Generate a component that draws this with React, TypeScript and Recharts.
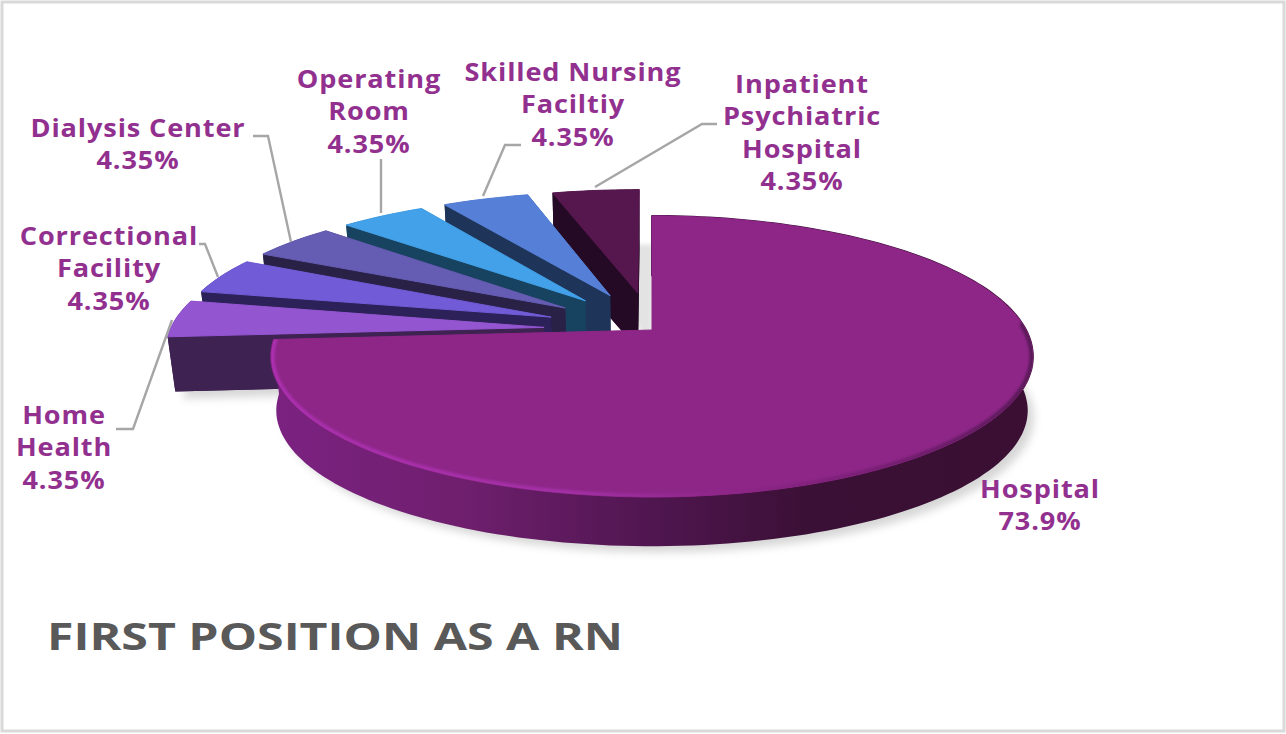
import React from 'react';
import { PieChart, Pie } from 'recharts';

const sliceNames = [
  'Inpatient Psychiatric Hospital',
  'Skilled Nursing Faciltiy',
  'Operating Room',
  'Dialysis Center',
  'Correctional Facility',
  'Home Health',
  'Hospital',
];
const sliceValues = [4.35, 4.35, 4.35, 4.35, 4.35, 4.35, 73.9];
const topColors = ['#56174f', '#5680d8', '#42a1e8', '#655cb3', '#725bd6', '#9355d0', '#8e2688'];
const wallColors = ['#240a24', '#1f3459', '#184360', '#292146', '#2c2259', '#3d2252', '#3a0f33'];

const chartTitle = 'FIRST POSITION AS A RN';
const data = sliceNames.map((name, i) => ({ name, value: sliceValues[i], top: topColors[i], wall: wallColors[i] }));

// label layout (not data): text centre, line centres, and leader polyline
const labelLayout: Record<string, { x: number; lines: string[]; ys: number[]; leader?: number[][] }> = {
  'Inpatient Psychiatric Hospital': {
    x: 802, lines: ['Inpatient', 'Psychiatric', 'Hospital'], ys: [83, 115, 148, 180],
    leader: [[595, 187], [702, 124], [717, 124]],
  },
  'Skilled Nursing Faciltiy': {
    x: 573, lines: ['Skilled Nursing', 'Faciltiy'], ys: [71, 103, 136],
    leader: [[483, 196], [505, 145], [521, 145]],
  },
  'Operating Room': {
    x: 369, lines: ['Operating', 'Room'], ys: [78, 110, 143],
    leader: [[381, 213], [381, 159]],
  },
  'Dialysis Center': {
    x: 138, lines: ['Dialysis Center'], ys: [127, 159],
    leader: [[291, 242], [268, 136], [253, 136]],
  },
  'Correctional Facility': {
    x: 109, lines: ['Correctional', 'Facility'], ys: [235, 267, 300],
    leader: [[218, 277], [205, 244], [199, 244]],
  },
  'Home Health': {
    x: 64, lines: ['Home', 'Health'], ys: [414, 446, 479],
    leader: [[172, 320], [133, 429], [116, 429]],
  },
  Hospital: { x: 1040, lines: ['Hospital'], ys: [488, 520] },
};

const K = 0.1886;
const KX_EXPLODED = 0.13;
const EXPLODE = 0.29;
const Y_RATIO = 135.5 / 374;
const BOTTOM_X = 368 / 374;
const BOTTOM_Y = 130 / 135.5;
const DEPTH = 55;
const RAD = Math.PI / 180;

function geometry(p: any) {
  const { cx, cy, outerRadius: A, startAngle, endAngle, percent } = p;
  const exploded = percent < 0.5;
  const mid = ((startAngle + endAngle) / 2) * RAD;
  const ox = exploded ? EXPLODE * Math.cos(mid) : 0;
  const oy = exploded ? EXPLODE * Math.sin(mid) : 0;
  const kx = exploded ? KX_EXPLODED : K;
  const B = A * Y_RATIO;
  const topPt = (u: number, v: number) => [
    cx + (A * (u + ox)) / (1 + kx * (v + oy)),
    cy - (B * (v + oy)) / (1 + K * (v + oy)),
  ];
  const botPt = (u: number, v: number) => [
    cx + (A * BOTTOM_X * (u + ox)) / (1 + kx * (v + oy)),
    cy + DEPTH - (B * BOTTOM_Y * (v + oy)) / (1 + K * (v + oy)),
  ];
  const ring = (fn: (u: number, v: number) => number[], a0 = startAngle, a1 = endAngle) => {
    const pts: number[][] = [];
    const n = Math.max(4, Math.ceil((a1 - a0) / 1.5));
    for (let i = 0; i <= n; i++) {
      const t = (a0 + ((a1 - a0) * i) / n) * RAD;
      pts.push(fn(Math.cos(t), Math.sin(t)));
    }
    return pts;
  };
  return { exploded, topPt, botPt, ring, startAngle, endAngle };
}

const toPath = (pts: number[][], close = true) =>
  'M' + pts.map((q) => `${q[0].toFixed(1)},${q[1].toFixed(1)}`).join('L') + (close ? 'Z' : '');

function ShadowShape(p: any) {
  const g = geometry(p);
  const apex = g.botPt(0, 0);
  // the backmost exploded slice throws its shadow sideways into the gap beside the big slice
  const backmost = g.exploded && (g.startAngle + g.endAngle) / 2 < 100;
  return (
    <path
      d={toPath([apex, ...g.ring(g.botPt)])}
      transform={backmost ? 'translate(14,-6)' : 'translate(7,7)'}
      fill={backmost ? 'rgba(0,0,0,0.11)' : 'rgba(0,0,0,0.16)'}
      style={{ filter: backmost ? 'blur(2px)' : 'blur(4px)' }}
    />
  );
}

function SliceShape(p: any) {
  const g = geometry(p);
  const top = g.ring(g.topPt);
  const bot = g.ring(g.botPt);
  const aT = g.topPt(0, 0);
  const aB = g.botPt(0, 0);
  const wallColor = p.payload?.wall ?? p.wall;
  const topColor = p.payload?.top ?? p.top;
  const wallPath = toPath([...top, ...bot.slice().reverse()]);
  if (g.exploded) {
    return (
      <g>
        <path d={toPath([aB, ...bot])} fill={wallColor} />
        <path d={toPath([aT, top[0], bot[0], aB])} fill={wallColor} />
        <path d={toPath([aT, top[top.length - 1], bot[bot.length - 1], aB])} fill={wallColor} />
        <path d={wallPath} fill={wallColor} />
        <path d={toPath([aT, ...top])} fill={topColor} stroke={topColor} strokeWidth={1} strokeLinejoin="round" />
      </g>
    );
  }
  const rim = g.ring(g.topPt, g.startAngle, 362);
  const topPath = toPath([aT, ...top]);
  return (
    <g>
      <defs>
        <linearGradient id="hospitalWall" gradientUnits="userSpaceOnUse" x1="270" y1="0" x2="1033" y2="0">
          <stop offset="0" stopColor="#7c2282" />
          <stop offset="0.25" stopColor="#6f1f6e" />
          <stop offset="0.5" stopColor="#501650" />
          <stop offset="0.7" stopColor="#3b1036" />
          <stop offset="1" stopColor="#3a0f33" />
        </linearGradient>
        <linearGradient id="hospitalRim" gradientUnits="userSpaceOnUse" x1="270" y1="0" x2="1033" y2="0">
          <stop offset="0" stopColor="#ab30ae" />
          <stop offset="0.4" stopColor="#a230a4" />
          <stop offset="0.6" stopColor="#8e2688" />
          <stop offset="0.78" stopColor="#7a2076" />
          <stop offset="1" stopColor="#5a1a58" />
        </linearGradient>
        <clipPath id="hospitalTopClip">
          <path d={topPath} />
        </clipPath>
      </defs>
      <path d={wallPath} fill="url(#hospitalWall)" stroke="url(#hospitalWall)" strokeWidth={2} strokeLinejoin="round" />
      <path d={topPath} fill={topColor} stroke={topColor} strokeWidth={1} strokeLinejoin="round" />
      <g clipPath="url(#hospitalTopClip)">
        <path d={toPath(rim, false)} fill="none" stroke="url(#hospitalRim)" strokeWidth={7} strokeLinecap="round" style={{ filter: 'blur(1px)' }} />
      </g>
    </g>
  );
}

const LABEL_STRETCH = 1.085;
const labelFont: React.CSSProperties = {
  fontFamily: '"Open Sans", sans-serif',
  fontWeight: 700,
  fontSize: 25,
  letterSpacing: 0.8,
};

function SliceLabel(p: any) {
  const layout = labelLayout[p.name];
  if (!layout) return null;
  const lines = [...layout.lines, `${p.value}%`];
  return (
    <g>
      {layout.leader && (
        <polyline
          points={layout.leader.map((q) => q.join(',')).join(' ')}
          fill="none"
          stroke="#a6a6a6"
          strokeWidth={2.4}
        />
      )}
      {lines.map((line, i) => (
        <text
          key={i}
          transform={`translate(${layout.x},${layout.ys[i]}) scale(${LABEL_STRETCH},1)`}
          textAnchor="middle"
          dominantBaseline="central"
          fill="#92308f"
          style={labelFont}
        >
          {line}
        </text>
      ))}
    </g>
  );
}

export default function App() {
  return (
    <div style={{ position: 'absolute', left: 0, top: 0, width: 1286, height: 734, background: '#fff' }}>
      <PieChart width={1286} height={734} margin={{ top: 0, right: 0, bottom: 0, left: 0 }}>
        <rect x={2} y={2} width={1282} height={729} fill="#fff" stroke="#d9d9d9" strokeWidth={3} />
        <Pie
          data={data}
          dataKey="value"
          nameKey="name"
          cx={652}
          cy={330}
          innerRadius={0}
          outerRadius={374}
          startAngle={90}
          endAngle={450}
          isAnimationActive={false}
          shape={ShadowShape}
          label={false}
          labelLine={false}
          stroke="none"
        />
        <Pie
          data={data}
          dataKey="value"
          nameKey="name"
          cx={652}
          cy={330}
          innerRadius={0}
          outerRadius={374}
          startAngle={90}
          endAngle={450}
          isAnimationActive={false}
          shape={SliceShape}
          label={SliceLabel}
          labelLine={false}
          stroke="none"
        />
        <text
          x={47}
          y={650}
          fill="#595959"
          textLength={576}
          lengthAdjust="spacingAndGlyphs"
          style={{ fontFamily: '"Open Sans", sans-serif', fontWeight: 700, fontSize: 37 }}
        >
          {chartTitle}
        </text>
      </PieChart>
    </div>
  );
}
